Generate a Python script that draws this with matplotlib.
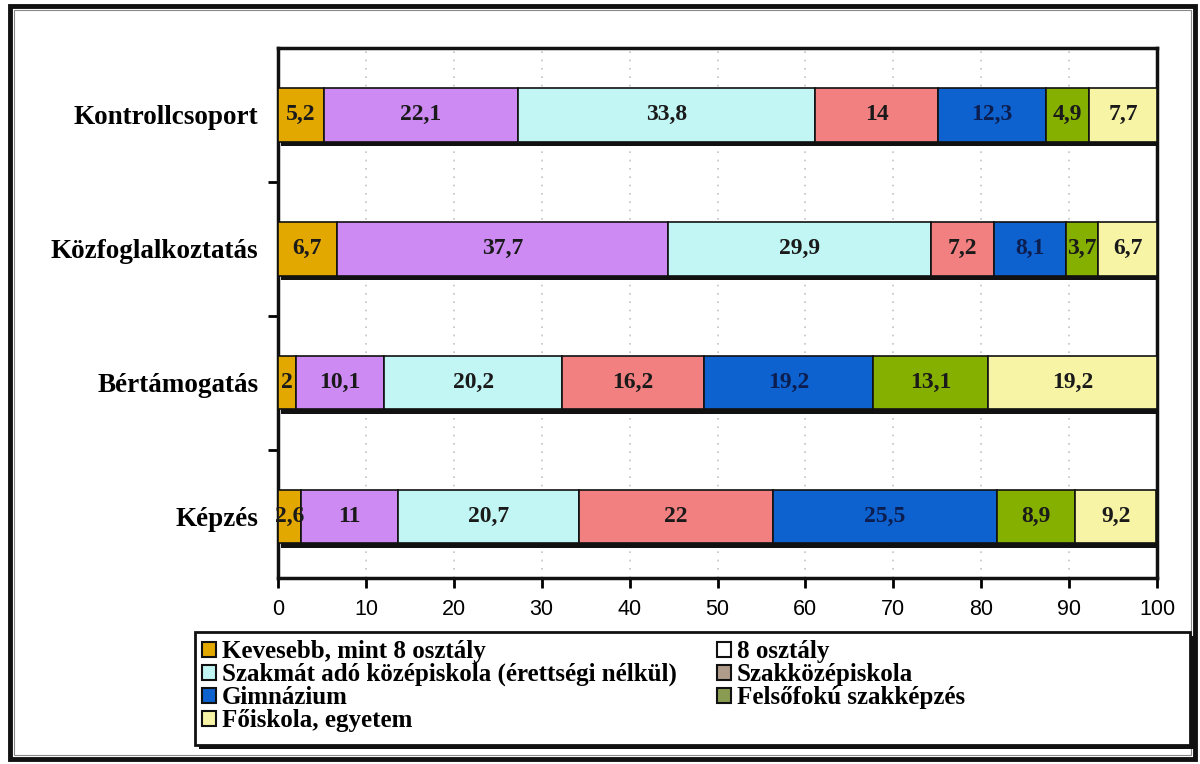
import numpy as np
import matplotlib.pyplot as plt
from matplotlib.patches import Patch, Rectangle

# categories, bottom to top
groups = ["Képzés", "Bértámogatás", "Közfoglalkoztatás", "Kontrollcsoport"]
series = ["Kevesebb, mint 8 osztály", "8 osztály",
          "Szakmát adó középiskola (érettségi nélkül)", "Szakközépiskola",
          "Gimnázium", "Felsőfokú szakképzés", "Főiskola, egyetem"]
values = np.array([
    [2.6, 11.0, 20.7, 22.0, 25.5, 8.9, 9.2],
    [2.0, 10.1, 20.2, 16.2, 19.2, 13.1, 19.2],
    [6.7, 37.7, 29.9, 7.2, 8.1, 3.7, 6.7],
    [5.2, 22.1, 33.8, 14.0, 12.3, 4.9, 7.7],
])
labels = [
    ["2,6", "11", "20,7", "22", "25,5", "8,9", "9,2"],
    ["2", "10,1", "20,2", "16,2", "19,2", "13,1", "19,2"],
    ["6,7", "37,7", "29,9", "7,2", "8,1", "3,7", "6,7"],
    ["5,2", "22,1", "33,8", "14", "12,3", "4,9", "7,7"],
]
xticks = [0, 10, 20, 30, 40, 50, 60, 70, 80, 90, 100]

bar_colors = ["#E2A800", "#CC8AF2", "#C2F6F4", "#F28080", "#0E62D0", "#86B000", "#F8F4A6"]
legend_colors = ["#E2A800", "#FFFFFF", "#C2F6F4", "#B09C8A", "#0E62D0", "#8A9C52", "#F8F4A6"]
text_colors = ["#1a1a1a", "#1a1a1a", "#1a1a1a", "#1a1a1a", "#0c1e50", "#1a1a1a", "#1a1a1a"]

serif = ["Liberation Serif", "DejaVu Serif"]

fig = plt.figure(figsize=(12, 7.64), dpi=100)
ax = fig.add_axes([278 / 1200, 1 - 578 / 764, (1157 - 278) / 1200, (578 - 48) / 764])

# outer double frame
fig.patches.append(Rectangle((10 / 1200, 5 / 764), 1185 / 1200, 753 / 764, transform=fig.transFigure,
                             fill=False, edgecolor="#111111", linewidth=3.5))
fig.patches.append(Rectangle((14 / 1200, 9 / 764), 1177 / 1200, 745 / 764, transform=fig.transFigure,
                             fill=False, edgecolor="#888888", linewidth=0.8))

y = np.arange(len(groups))
h = 0.4
# shadow behind bars
ax.barh(y - 0.035, values.sum(axis=1) + 0.5, left=0.3, height=h, color="#111111", zorder=2)

left = np.zeros(len(groups))
for j in range(len(series)):
    ax.barh(y, values[:, j], left=left, height=h, color=bar_colors[j],
            edgecolor="#111111", linewidth=1.2, zorder=3)
    for i in range(len(groups)):
        ax.text(left[i] + values[i, j] / 2, y[i], labels[i][j], ha="center", va="center",
                fontsize=17, fontweight="bold", family=serif, color=text_colors[j], zorder=4)
    left += values[:, j]

ax.set_xlim(0, 100)
ax.set_ylim(-0.46, 3.5)
ax.set_xticks(xticks)
ax.set_xticklabels([str(t) for t in xticks], family=["Liberation Sans Narrow", "Liberation Sans"], fontsize=15.5)
ax.set_yticks(y)
ax.set_yticklabels(groups, family=serif, fontsize=19.5, fontweight="bold")
ax.set_yticks([0.5, 1.5, 2.5], minor=True)
ax.tick_params(axis="y", which="major", length=0, pad=14)
ax.tick_params(axis="y", which="minor", length=7, width=2, direction="out")
ax.tick_params(axis="x", length=7, width=2, direction="out", pad=8)
ax.grid(axis="x", color="#c4c4c4", linestyle=(0, (1, 4)), linewidth=1.2)
ax.set_axisbelow(True)
for s in ax.spines.values():
    s.set_linewidth(2.5)
    s.set_color("#111111")

# legend with its own frame
fig.patches.append(Rectangle((199 / 1200, 1 - 749 / 764), 995 / 1200, 113 / 764, transform=fig.transFigure,
                             facecolor="#111111", edgecolor="none"))
fig.patches.append(Rectangle((195 / 1200, 1 - 745 / 764), 995 / 1200, 113 / 764, transform=fig.transFigure,
                             facecolor="white", edgecolor="#111111", linewidth=2))
handles = [Patch(facecolor=legend_colors[k], edgecolor="#111111", linewidth=1.5, label=series[k])
           for k in range(len(series))]
order = [0, 2, 4, 6, 1, 3, 5]
fig.legend([handles[k] for k in order], [series[k] for k in order], ncol=2,
           loc="upper left", bbox_to_anchor=(197 / 1200, 1 - 635 / 764), frameon=False,
           prop={"family": serif, "weight": "bold", "size": 18},
           handlelength=0.55, handleheight=0.55, handletextpad=0.25, labelspacing=0.0,
           columnspacing=1.6, borderaxespad=0, borderpad=0.2)

fig.savefig("out.png", dpi=100)
